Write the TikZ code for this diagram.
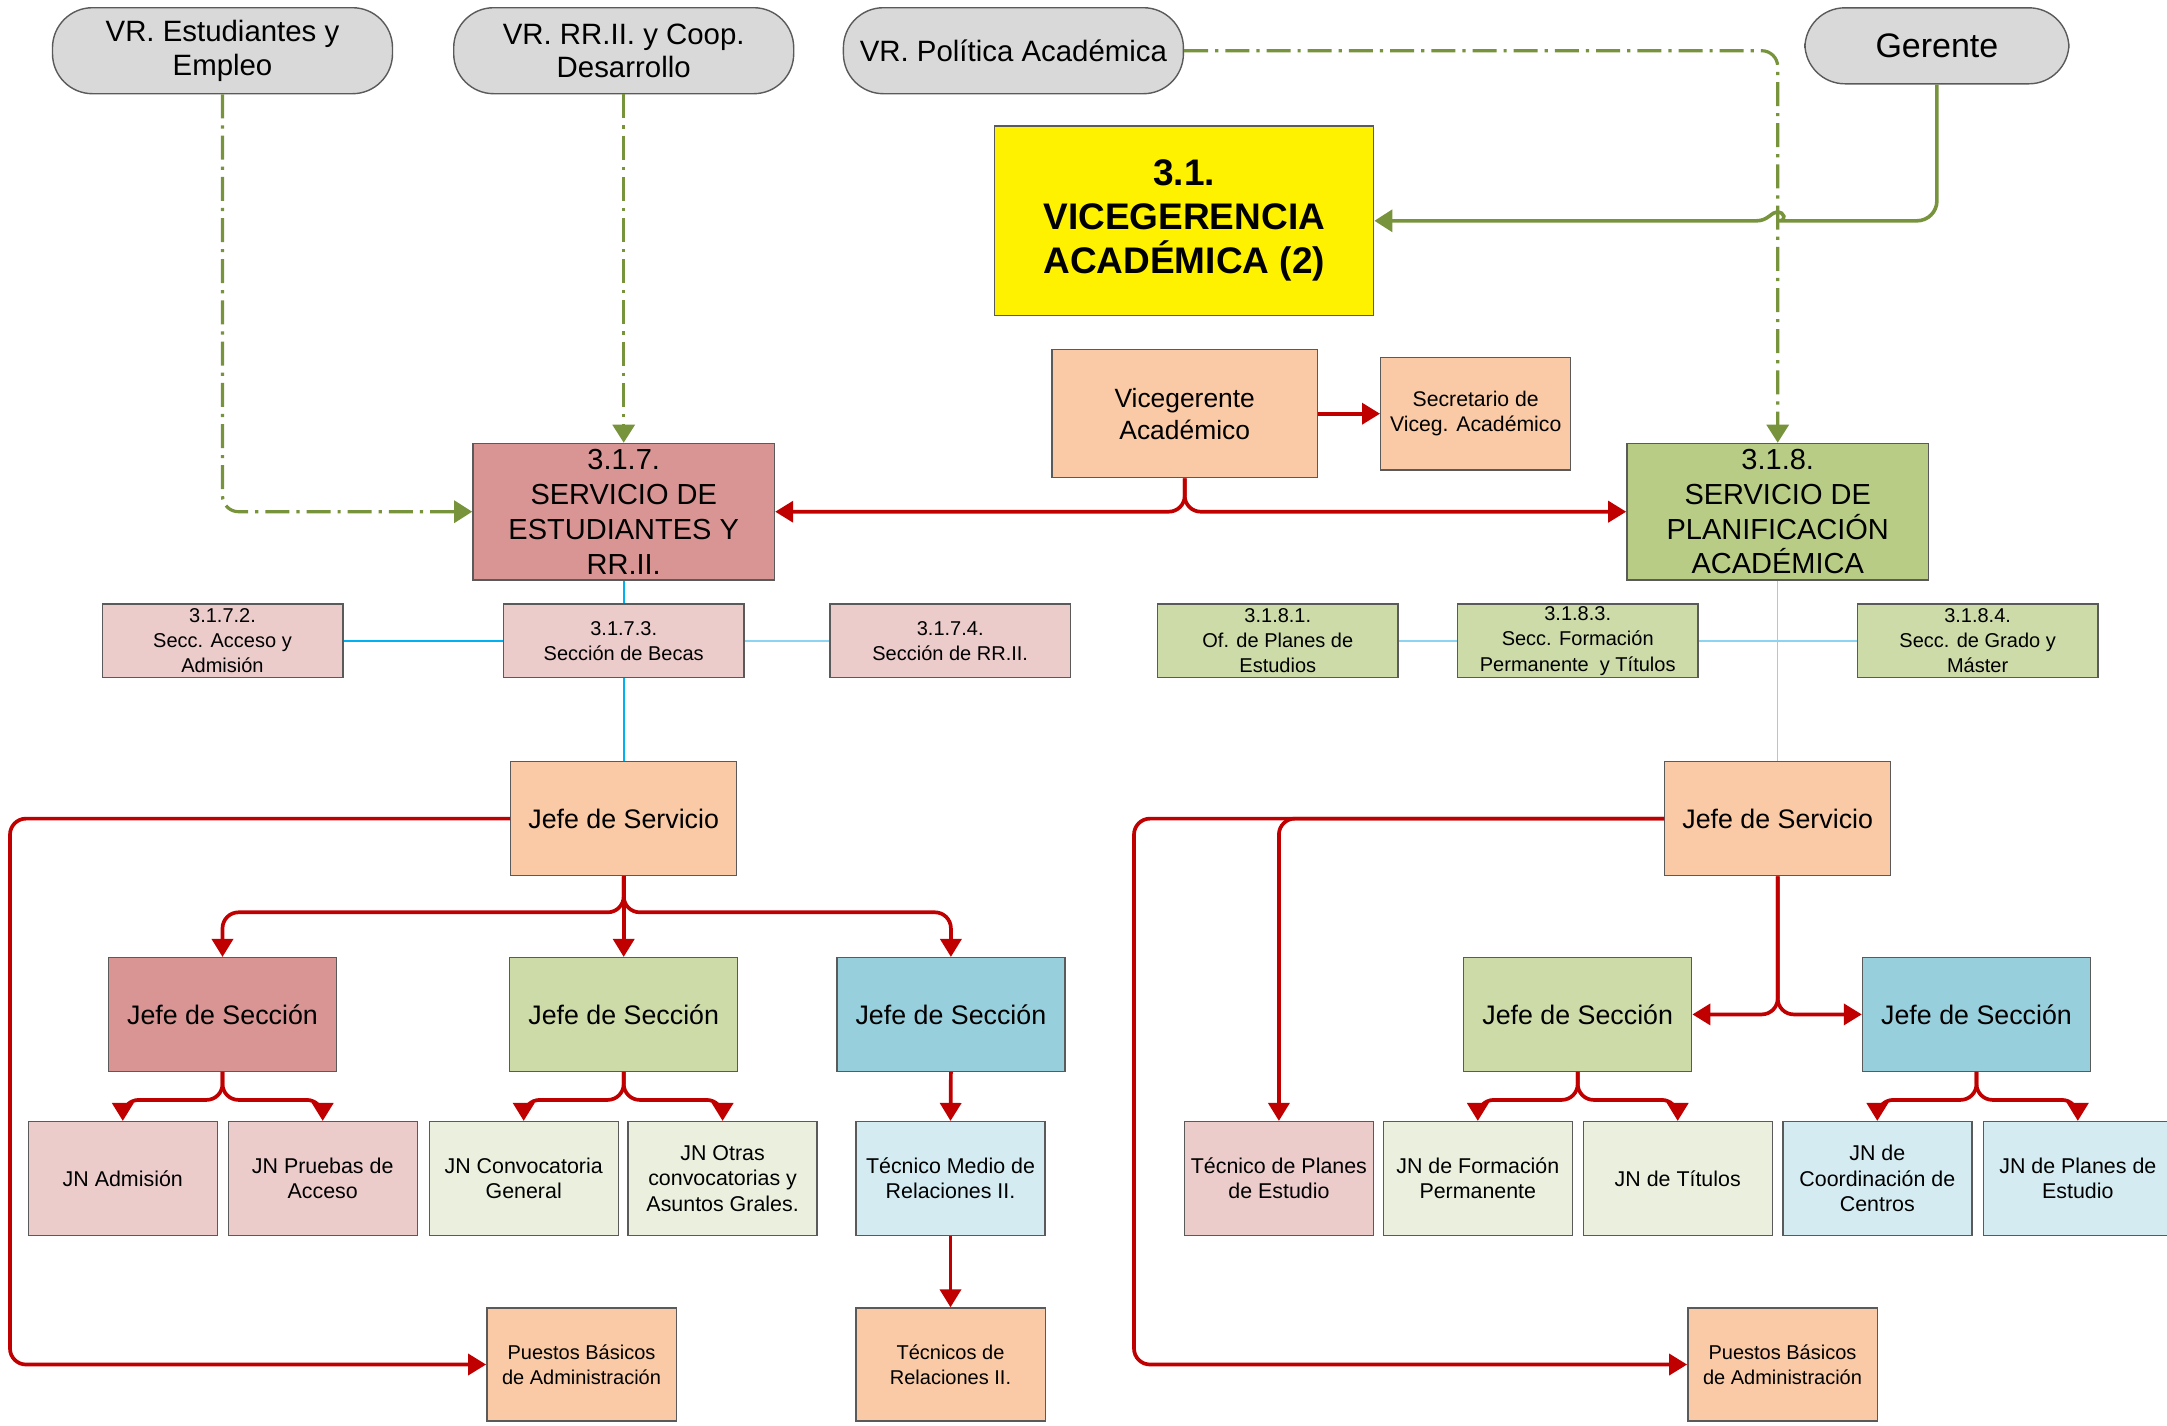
\documentclass[tikz,border=0pt]{standalone}
\usepackage{fontspec}
\setmainfont{Liberation Sans}
\usepackage{xcolor}
\usepackage{tikz}
\usetikzlibrary{arrows.meta,backgrounds}
\definecolor{PillGray}{HTML}{D9D9D9}
\definecolor{EdgeGray}{HTML}{5A5A5A}
\definecolor{Peach}{HTML}{F9CAA5}
\definecolor{RoseDark}{HTML}{D99594}
\definecolor{RoseLight}{HTML}{ECCBCB}
\definecolor{OliveDark}{HTML}{B8CC86}
\definecolor{OliveMid}{HTML}{CDDBA9}
\definecolor{OliveLight}{HTML}{EBF0DE}
\definecolor{SkyDark}{HTML}{97CFDD}
\definecolor{SkyLight}{HTML}{D3EBF1}
\definecolor{LineRed}{HTML}{C00000}
\definecolor{LineGreen}{HTML}{77933C}
\definecolor{LineBlue}{HTML}{00B0F0}
\definecolor{LineSky}{HTML}{8DD3F2}

\begin{document}
\begin{tikzpicture}[x=0.5pt, y=-0.5pt,
    box/.style={draw=EdgeGray, line width=0.7pt, align=center, inner sep=0pt},
    pill/.style={box, fill=PillGray, rounded corners=20pt, minimum width=170pt, minimum height=43pt, font=\fontsize{14.7}{16.7}\selectfont},
    service/.style={box, minimum width=150.8pt, minimum height=68.3pt, font=\fontsize{14.5}{17.4}\selectfont},
    section/.style={box, minimum width=120.3pt, minimum height=36.8pt, font=\fontsize{10}{12.6}\selectfont},
    chief/.style={box, minimum width=113pt, minimum height=57pt, font=\fontsize{13.4}{16}\selectfont},
    unit/.style={box, minimum width=94.5pt, minimum height=56.9pt, font=\fontsize{10.7}{12.7}\selectfont},
    base/.style={box, fill=Peach, minimum width=94.7pt, minimum height=56.5pt, font=\fontsize{10}{12.7}\selectfont},
    rline/.style={draw=LineRed, line width=1.85pt, rounded corners=8pt, -{Triangle[length=9pt,width=10.5pt]}},
    gdash/.style={draw=LineGreen, line width=1.6pt, rounded corners=8pt, dash pattern=on 12pt off 3.5pt on 1.6pt off 3.5pt, -{Triangle[length=9pt,width=11pt]}},
    gline/.style={draw=LineGreen, line width=1.8pt, -{Triangle[length=9pt,width=11pt]}},
    bline/.style={draw=LineBlue, line width=1.1pt},
    sline/.style={draw=LineSky, line width=0.7pt}]
  \useasboundingbox (0,0) rectangle (2167,1425);

  \node[pill] (vrest) at (222.5,50.7) {VR. Estudiantes y\\Empleo};
  \node[pill] (vrrrii) at (623.7,50.7) {VR. RR.II. y Coop.\\Desarrollo};
  \node[pill] (vrpol) at (1013.4,50.7) {VR. Política Académica};
  \node[pill, minimum width=132pt, minimum height=38pt, font=\fontsize{17}{19}\selectfont] (gerente) at (1936.9,45.8) {Gerente};

  \node[box, fill=yellow, minimum width=189.5pt, minimum height=94.8pt, font=\fontsize{18.5}{22}\selectfont\bfseries] (vicegerencia) at (1184.2,220.8) {3.1.\\VICEGERENCIA\\ACADÉMICA (2)};
  \node[box, fill=Peach, minimum width=132.7pt, minimum height=64pt, font=\fontsize{13.2}{16}\selectfont] (vicegerente) at (1184.7,413.7) {Vicegerente\\Académico};
  \node[box, fill=Peach, minimum width=95pt, minimum height=56.3pt, font=\fontsize{10.6}{12.8}\selectfont] (secretario) at (1475.7,413.7) {Secretario de\\Viceg. Académico};

  \node[service, fill=RoseDark] (estudiantes) at (623.7,511.7) {3.1.7.\\SERVICIO DE\\ESTUDIANTES Y\\RR.II.};
  \node[service, fill=OliveDark] (planificacion) at (1777.7,511.7) {3.1.8.\\SERVICIO DE\\PLANIFICACIÓN\\ACADÉMICA};

  \node[section, fill=RoseLight] (acceso) at (222.5,640.9) {3.1.7.2.\\Secc. Acceso y\\Admisión};
  \node[section, fill=RoseLight] (becas) at (623.7,640.9) {3.1.7.3.\\Sección de Becas};
  \node[section, fill=RoseLight] (rrii) at (950.2,640.9) {3.1.7.4.\\Sección de RR.II.};
  \node[section, fill=OliveMid] (planes) at (1277.8,640.9) {3.1.8.1.\\Of. de Planes de\\Estudios};
  \node[section, fill=OliveMid] (formacion) at (1577.7,640.9) {3.1.8.3.\\Secc. Formación\\Permanente \ y Títulos};
  \node[section, fill=OliveMid] (grado) at (1977.6,640.9) {3.1.8.4.\\Secc. de Grado y\\Máster};

  \node[chief, fill=Peach] (jefeest) at (623.7,818.6) {Jefe de Servicio};
  \node[chief, fill=Peach] (jefepla) at (1777.7,818.6) {Jefe de Servicio};

  \node[chief, minimum width=114pt, minimum height=56.8pt, fill=RoseDark] (seccadm) at (222.5,1014.4) {Jefe de Sección};
  \node[chief, minimum width=114pt, minimum height=56.8pt, fill=OliveMid] (secccon) at (623.7,1014.4) {Jefe de Sección};
  \node[chief, minimum width=114pt, minimum height=56.8pt, fill=SkyDark] (seccrel) at (950.9,1014.4) {Jefe de Sección};
  \node[chief, minimum width=114pt, minimum height=56.8pt, fill=OliveMid] (seccfor) at (1577.7,1014.4) {Jefe de Sección};
  \node[chief, minimum width=114pt, minimum height=56.8pt, fill=SkyDark] (seccgra) at (1976.5,1014.4) {Jefe de Sección};

  \node[unit, fill=RoseLight] (jnadm) at (122.8,1178.5) {JN Admisión};
  \node[unit, fill=RoseLight] (jnpru) at (322.7,1178.5) {JN Pruebas de\\Acceso};
  \node[unit, fill=OliveLight] (jncon) at (523.7,1178.5) {JN Convocatoria\\General};
  \node[unit, fill=OliveLight] (jnotr) at (722.6,1178.5) {JN Otras\\convocatorias y\\Asuntos Grales.};
  \node[unit, fill=SkyLight] (tecmed) at (950.5,1178.5) {Técnico Medio de\\Relaciones II.};
  \node[unit, fill=RoseLight] (tecpla) at (1278.9,1178.5) {Técnico de Planes\\de Estudio};
  \node[unit, fill=OliveLight] (jnfor) at (1477.8,1178.5) {JN de Formación\\Permanente};
  \node[unit, fill=OliveLight] (jntit) at (1677.7,1178.5) {JN de Títulos};
  \node[unit, fill=SkyLight] (jncoo) at (1877.3,1178.5) {JN de\\Coordinación de\\Centros};
  \node[unit, fill=SkyLight] (jnpla) at (2077.8,1178.5) {JN de Planes de\\Estudio};

  \node[base] (basicosest) at (581.5,1364.5) {Puestos Básicos\\de Administración};
  \node[base] (tecrel) at (950.5,1364.5) {Técnicos de\\Relaciones II.};
  \node[base] (basicospla) at (1782.5,1364.5) {Puestos Básicos\\de Administración};

  \begin{scope}[on background layer]
    \draw[bline] (estudiantes.south) -- (jefeest.north);
    \draw[bline] (acceso.east) -- (becas.west);
    \draw[sline] (becas.east) -- (rrii.west);
    \draw[sline] (planificacion.south) -- (jefepla.north);
    \draw[sline] (planes.east) -- (formacion.west);
    \draw[sline] (formacion.east) -- (grado.west);
  \end{scope}

  \draw[gdash] (vrest.south) |- (estudiantes.west);
  \draw[gdash] (vrrrii.south) -- (estudiantes.north);
  \draw[gdash] (vrpol.east) -| (planificacion.north);
  \coordinate (hop) at (planificacion.north |- vicegerencia.east);
  \draw[gline] (gerente.south) [rounded corners=10pt] |- ([xshift=10.5pt]hop) [sharp corners]
    .. controls ([xshift=5pt]hop) and ([xshift=3pt,yshift=4.5pt]hop) .. ([yshift=4.5pt]hop)
    .. controls ([xshift=-3pt,yshift=4.5pt]hop) and ([xshift=-5pt]hop) .. ([xshift=-10.5pt]hop)
    -- (vicegerencia.east);

  \draw[rline] (vicegerente.east) -- (secretario.west);
  \draw[rline] (vicegerente.south) |- (estudiantes.east);
  \draw[rline] (vicegerente.south) |- (planificacion.west);

  \draw[rline] (jefeest.south) -- ++(0,36) -| (seccadm.north);
  \draw[rline] (jefeest.south) -- (secccon.north);
  \draw[rline] (jefeest.south) -- ++(0,36) -| (seccrel.north);
  \draw[rline] (jefeest.west) -- ++(-500,0) |- (basicosest.west);

  \draw[rline] (seccadm.south) -- ++(0,28) -| (jnadm.north);
  \draw[rline] (seccadm.south) -- ++(0,28) -| (jnpru.north);
  \draw[rline] (secccon.south) -- ++(0,28) -| (jncon.north);
  \draw[rline] (secccon.south) -- ++(0,28) -| (jnotr.north);
  \draw[rline] (seccrel.south) -- (tecmed.north);
  \draw[rline] (tecmed.south) -- (tecrel.north);

  \draw[rline] (jefepla.west) -- ++(-530,0) |- (basicospla.west);
  \draw[rline] (jefepla.west) -| (tecpla.north);
  \draw[rline] (jefepla.south) |- (seccfor.east);
  \draw[rline] (jefepla.south) |- (seccgra.west);

  \draw[rline] (seccfor.south) -- ++(0,28) -| (jnfor.north);
  \draw[rline] (seccfor.south) -- ++(0,28) -| (jntit.north);
  \draw[rline] (seccgra.south) -- ++(0,28) -| (jncoo.north);
  \draw[rline] (seccgra.south) -- ++(0,28) -| (jnpla.north);
\end{tikzpicture}
\end{document}
